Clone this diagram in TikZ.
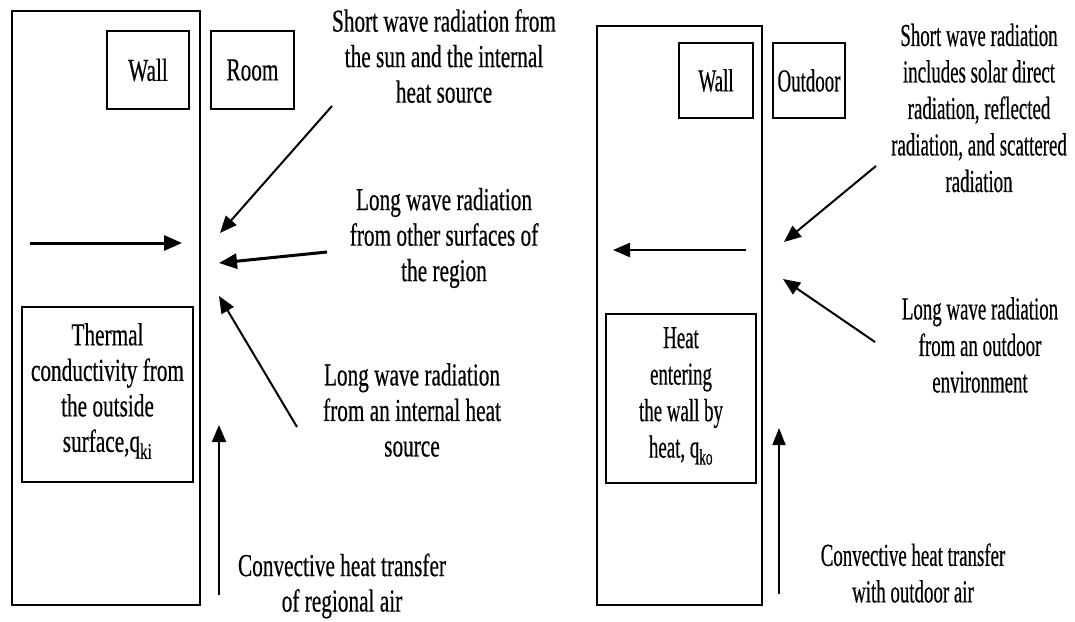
\documentclass[tikz,border=0pt]{standalone}
\usepackage{fontspec}
\setmainfont{Liberation Serif}
\newfontfamily\lfont{Liberation Serif}[FakeStretch=0.665,FakeBold=0.4]
\newfontfamily\rfont{Liberation Serif}[FakeStretch=0.59,FakeBold=0.4]
\usetikzlibrary{arrows.meta}
\begin{document}
\begin{tikzpicture}[x=1pt,y=-1pt,
  frame/.style={draw, line width=2pt, inner sep=0pt},
  lbl/.style={inner sep=0pt, align=center, font=\lfont\fontsize{32}{35.5}\selectfont},
  rlbl/.style={inner sep=0pt, align=center, font=\rfont\fontsize{32}{36.5}\selectfont},
  arr/.style={line width=2pt, -{Triangle[length=17pt,width=14pt]}},
  thickarr/.style={line width=3pt, -{Triangle[length=18pt,width=15pt]}},
]
\useasboundingbox (0,0) rectangle (1075,621);

% ---------- left panel ----------
\node[frame, minimum width=188pt, minimum height=594pt] (lout) at (106,308) {};
\node[frame, minimum width=82pt, minimum height=78pt, lbl] (lwall) at (148,70) {Wall};
\node[frame, minimum width=83pt, minimum height=78pt, lbl] (room) at (252.5,70) {Room};
\node[frame, minimum width=171pt, minimum height=175pt] (therm) at (107.5,394.5) {};
\node[lbl] (thermtxt) at (107.5,391) {Thermal\\conductivity from\\the outside\\surface,q\textsubscript{ki}};

\coordinate (a1s) at (30,243);  \coordinate (a1e) at (182,243);
\coordinate (b1s) at (332,106); \coordinate (b1e) at (220,233);
\coordinate (b2s) at (327,252); \coordinate (b2e) at (219,263);
\coordinate (b3s) at (297,427); \coordinate (b3e) at (219,296);
\coordinate (c1s) at (219,595); \coordinate (c1e) at (219,425);
\draw[thickarr] (a1s) -- (a1e);
\draw[arr] (b1s) -- (b1e);
\draw[thickarr] (b2s) -- (b2e);
\draw[arr] (b3s) -- (b3e);
\draw[arr] (c1s) -- (c1e);

\node[lbl] (t1) at (444,56) {Short wave radiation from\\the sun and the internal\\heat source};
\node[lbl] (t2) at (444,238) {Long wave radiation\\from other surfaces of\\the region};
\node[lbl] (t3) at (412,410) {Long wave radiation\\from an internal heat\\source};
\node[lbl] (t4) at (342,586) {Convective heat transfer\\of regional air};

% ---------- right panel ----------
\node[frame, minimum width=165pt, minimum height=579pt] (rout) at (679.5,315.5) {};
\node[frame, minimum width=74pt, minimum height=75pt, rlbl] (rwall) at (716,80.5) {Wall};
\node[frame, minimum width=72pt, minimum height=75pt, rlbl] (outd) at (809,80.5) {Outdoor};
\node[frame, minimum width=150pt, minimum height=169pt] (heat) at (681,398.5) {};
\node[rlbl] (heattxt) at (681,396) {Heat\\entering\\the wall by\\heat, q\textsubscript{ko}};

\coordinate (d1s) at (746,250); \coordinate (d1e) at (613,250);
\coordinate (e1s) at (876,166); \coordinate (e1e) at (784,242);
\coordinate (e2s) at (875,342); \coordinate (e2e) at (783,279);
\coordinate (f1s) at (779,594); \coordinate (f1e) at (779,428);
\draw[line width=2.5pt, -{Triangle[length=17pt,width=14pt]}] (d1s) -- (d1e);
\draw[arr] (e1s) -- (e1e);
\draw[arr] (e2s) -- (e2e);
\draw[line width=1.6pt, -{Triangle[length=17pt,width=13pt]}] (f1s) -- (f1e);

\node[rlbl] (u1) at (979,108) {Short wave radiation\\includes solar direct\\radiation, reflected\\radiation, and scattered\\radiation};
\node[rlbl] (u2) at (980,345) {Long wave radiation\\from an outdoor\\environment};
\node[rlbl] (u3) at (913,573) {Convective heat transfer\\with outdoor air};
\end{tikzpicture}
\end{document}
